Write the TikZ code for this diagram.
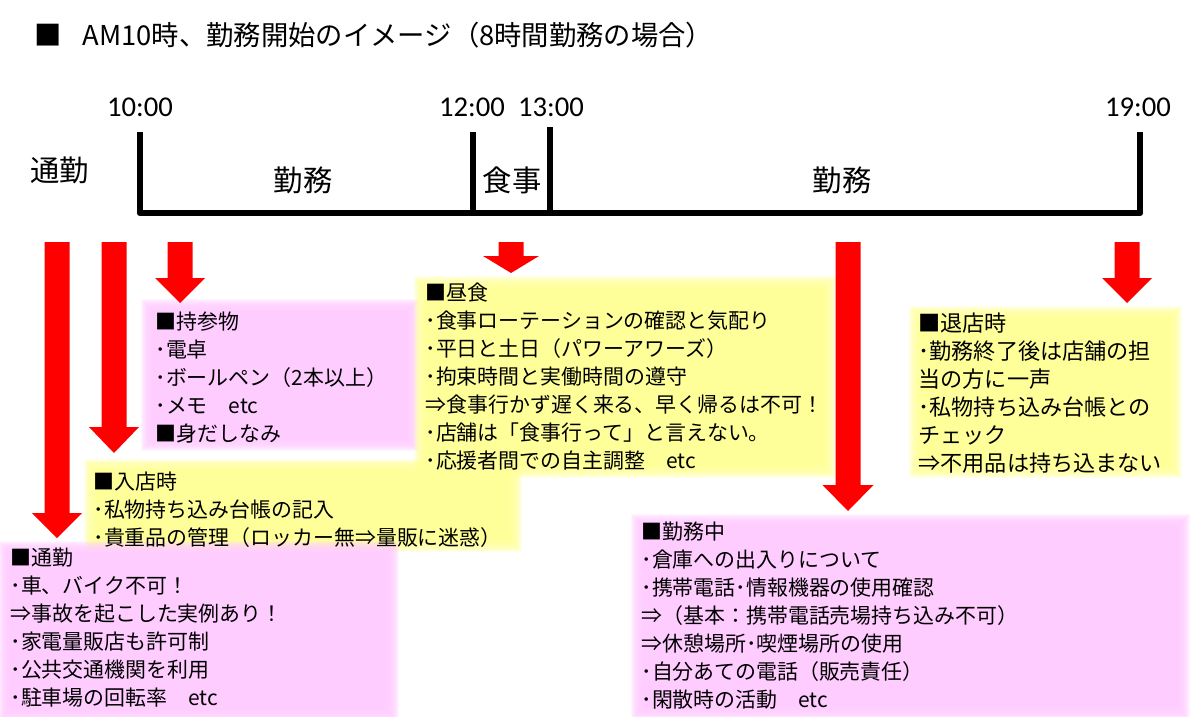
\documentclass[tikz,border=0pt]{standalone}
\usepackage{fontspec}
\setmainfont{Noto Sans CJK JP}
\newfontfamily\timefont{Carlito}
\usetikzlibrary{calc}
\definecolor{boxpink}{RGB}{255, 204, 255}
\definecolor{boxyellow}{RGB}{255, 255, 153}
\newcommand{\boxfont}{\fontsize{15.7}{21}\selectfont}

\begin{document}
\begin{tikzpicture}[x=0.75pt, y=-0.75pt, thick,
  memo/.style={anchor=north west, inner sep=0, align=left, font=\boxfont},
  phase/.style={font=\fontsize{22}{26}\selectfont},
  hour/.style={font=\timefont\fontsize{21.5}{26}\selectfont}]

\fill[white] (0, 0) rectangle (1200, 717);
\useasboundingbox (0, 0) rectangle (1200, 717);

% soft coloured backgrounds
\foreach \xa/\ya/\xb/\yb/\col in {141/299/419/451/boxpink, 414/276/836/478/boxyellow,
    84/459/522/552/boxyellow, -2/541/399/722/boxpink,
    909/306/1182/478/boxyellow, 631/514/1190/720/boxpink} {
  \foreach \i in {0, 1,..., 11} {
    \fill[\col, opacity=0.2] (\xa+\i, \ya+\i) rectangle (\xb-\i, \yb-\i);
  }
  \fill[\col] (\xa+12, \ya+12) rectangle (\xb-12, \yb-12);
}

\node[anchor=west, font=\fontsize{20.5}{24}\selectfont] (title) at (30, 35)
  {■\hspace{0.75em}AM10時、勤務開始のイメージ（8時間勤務の場合）};

% time line
\node[hour] (t10) at (140, 107) {10:00};
\node[hour] (t12) at (472, 107) {12:00};
\node[hour] (t13) at (551, 107) {13:00};
\node[hour] (t19) at (1138, 107) {19:00};

\draw[line width=5pt, line join=round] (140, 132) -- (140, 213) -- (1140, 213) -- (1140, 132);
\draw[line width=5pt] (473, 132) -- (473, 213);
\draw[line width=5pt] (550, 127) -- (550, 213);

\node[phase] (commute) at (60, 170) {通勤};
\node[phase] (work1) at (303, 180) {勤務};
\node[phase] (lunch) at (512, 180) {食事};
\node[phase] (work2) at (842, 180) {勤務};

% block arrows
\foreach \cx/\ya/\yh/\yt/\hw in {57/242/513/538/25, 114/242/427/453/25, 180/242/278/303/25,
    511/242/256/273/28, 848/242/485/511/25.5, 1127/242/278/303/25} {
  \fill[red] (\cx-12.5, \ya) -- (\cx+12.5, \ya) -- (\cx+12.5, \yh) -- (\cx+\hw, \yh)
    -- (\cx, \yt) -- (\cx-\hw, \yh) -- (\cx-12.5, \yh) -- cycle;
}

\node[memo] (gear) at (155, 311.5) {■持参物\\･電卓\\･ボールペン（2本以上）\\･メモ　etc\\■身だしなみ};
\node[memo] (meal) at (425, 282.5) {■昼食\\･食事ローテーションの確認と気配り\\･平日と土日（パワーアワーズ）\\
  ･拘束時間と実働時間の遵守\\⇒食事行かず遅く来る、早く帰るは不可！\\･店舗は「食事行って」と言えない。\\
  ･応援者間での自主調整　etc};
\node[memo] (entry) at (93, 471.5) {■入店時\\･私物持ち込み台帳の記入\\･貴重品の管理（ロッカー無⇒量販に迷惑）};
\node[memo] (travel) at (10, 547.5) {■通勤\\･車、バイク不可！\\⇒事故を起こした実例あり！\\･家電量販店も許可制\\
  ･公共交通機関を利用\\･駐車場の回転率　etc};
\node[memo, font=\fontsize{16.6}{21}\selectfont] (leave) at (918, 312) {■退店時\\･勤務終了後は店舗の担\\当の方に一声\\
  ･私物持ち込み台帳との\\チェック\\⇒不用品は持ち込まない};
\node[memo] (duty) at (641, 521.5) {■勤務中\\･倉庫への出入りについて\\･携帯電話･情報機器の使用確認\\
  ⇒（基本：携帯電話売場持ち込み不可）\\⇒休憩場所･喫煙場所の使用\\･自分あての電話（販売責任）\\
  ･閑散時の活動　etc};
\end{tikzpicture}
\end{document}
